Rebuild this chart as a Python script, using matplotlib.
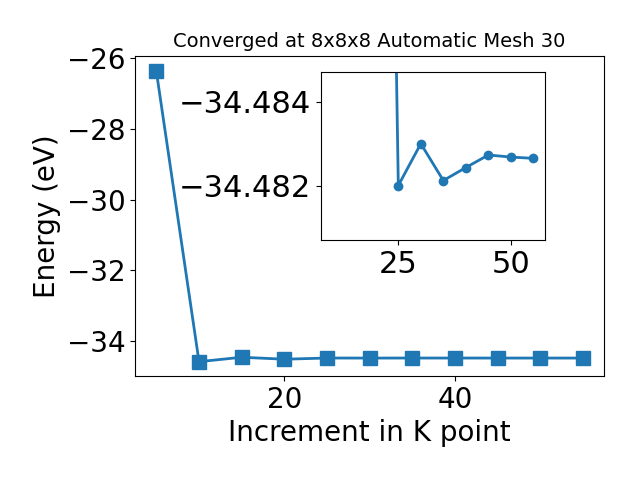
import matplotlib
matplotlib.use('Agg')
import matplotlib.pyplot as plt

# k-point increments and converged total energies
kpoints = [5, 10, 15, 20, 25, 30, 35, 40, 45, 50, 55]
energy = [-26.37, -34.585, -34.46, -34.515, -34.4820, -34.4830,
          -34.48212, -34.48243, -34.48273, -34.48268, -34.48265]

fig = plt.figure(figsize=(6.4, 4.8), dpi=100)
ax = fig.add_axes([0.211, 0.2167, 0.733, 0.667])
ax.plot(kpoints, energy, marker='s', markersize=10, linewidth=2, color='tab:blue')
ax.set_xlabel('Increment in K point', fontsize=20)
ax.set_ylabel('Energy (eV)', fontsize=20)
ax.set_title('Converged at 8x8x8 Automatic Mesh 30', fontsize=14)
ax.tick_params(labelsize=20)
ax.set_xlim(2.5, 57.5)
ax.set_ylim(-34.99, -25.93)
ax.set_yticks([-34, -32, -30, -28, -26])

# zoomed view of the converged region
ins = fig.add_axes([0.501, 0.5, 0.35, 0.349])
ins.plot(kpoints[3:], energy[3:], marker='o', markersize=6, linewidth=2, color='tab:blue')
ins.set_xlim(7.75, 57.5)
ins.set_ylim(-34.4807, -34.4847)
ins.set_yticks([-34.484, -34.482])
ins.set_xticks([25, 50])
ins.ticklabel_format(axis='y', useOffset=False)
ins.tick_params(labelsize=22)

plt.savefig('out.png', dpi=100)
